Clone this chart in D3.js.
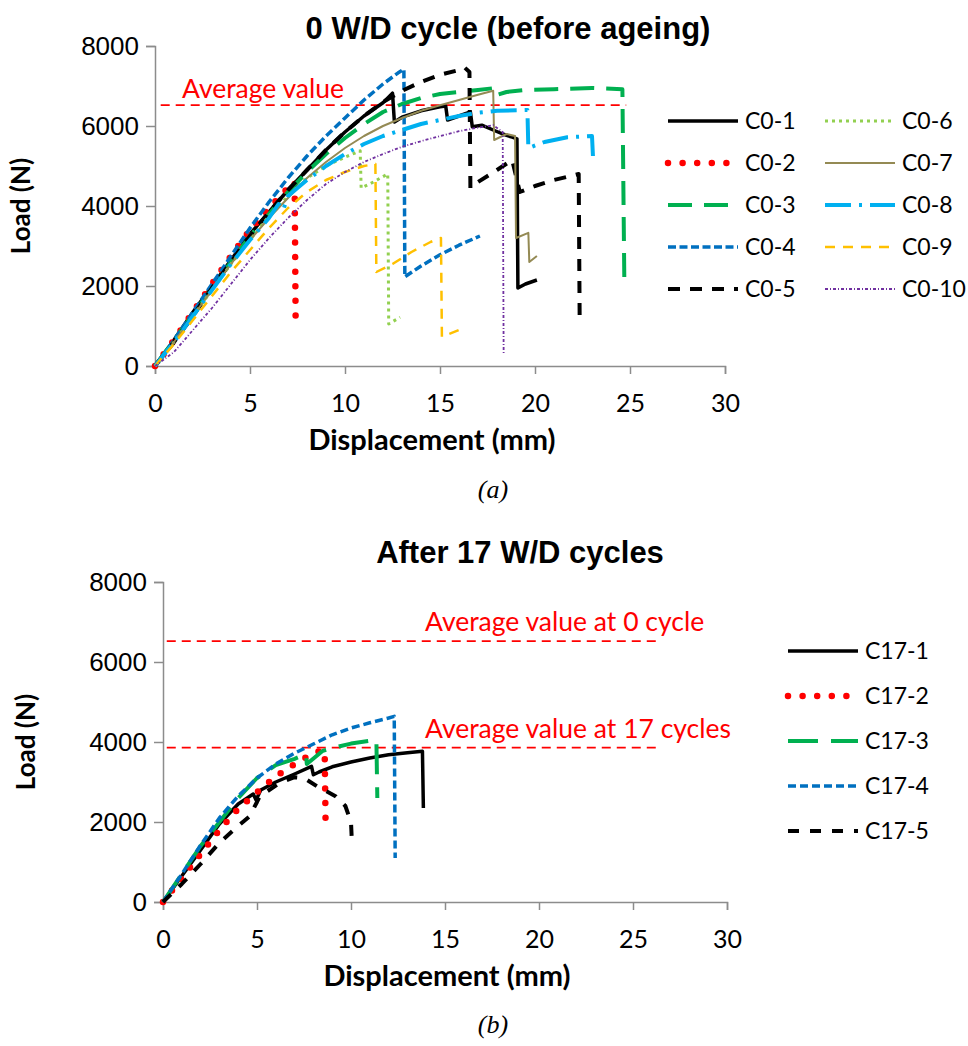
<!DOCTYPE html>
<html><head><meta charset="utf-8">
<script src="https://cdn.jsdelivr.net/npm/d3@7"></script>
<style>body{margin:0;background:#fff}</style>
</head><body><svg id="c" width="968" height="1046"></svg>
<script>
// ---------- DATA ----------
const xTickValues = [0, 5, 10, 15, 20, 25, 30];
const yTickValues = [0, 2000, 4000, 6000, 8000];

const namesA = ["C0-1","C0-2","C0-3","C0-4","C0-5","C0-6","C0-7","C0-8","C0-9","C0-10"];
const namesB = ["C17-1","C17-2","C17-3","C17-4","C17-5"];

const titleA = "0 W/D cycle (before ageing)";
const titleB = "After 17 W/D cycles";

const avgA = 6520;          // average value, 0 cycle
const avgB17 = 3860;        // average value, 17 cycles

const C0_1 = [[0,0],[1,650],[2,1350],[3,2000],[4,2650],[5,3300],[6,3850],[7,4400],[8,4900],[9,5400],[10,5850],[11,6250],[12,6580],[12.5,6820],[12.6,6100],[13,6220],[14,6380],[15,6480],[15.3,6500],[15.4,6150],[16,6250],[16.6,6350],[16.7,5980],[17.2,6020],[17.8,5900],[18.3,5800],[18.8,5720],[19.05,5680],[19.1,1950],[19.5,2050],[20.1,2150]];
const C0_2 = [[0,0],[1,650],[2,1350],[3,2050],[4,2750],[5,3400],[6,3950],[7,4450],[7.35,4600],[7.4,1250]];
const C0_3 = [[0,0],[1,650],[2,1300],[3,1950],[4,2600],[5,3250],[6,3800],[7,4350],[8,4850],[9,5300],[10,5700],[11,6050],[12,6350],[13,6550],[14,6700],[15,6800],[16,6850],[17,6900],[17.9,6950],[18,6780],[18.5,6850],[19.5,6900],[21,6920],[23,6950],[24.6,6920],[24.7,2200]];
const C0_4 = [[0,0],[1,650],[2,1350],[3,2050],[4,2750],[5,3450],[6,4100],[7,4700],[8,5250],[9,5750],[10,6200],[11,6650],[12,7050],[12.8,7330],[13.1,7420],[13.15,2230],[14,2500],[15,2780],[16,3020],[17.1,3250]];
const C0_5 = [[0,0],[1,600],[2,1250],[3,1950],[4,2600],[5,3250],[6,3850],[7,4400],[8,4900],[9,5400],[10,5850],[11,6250],[12,6600],[13,6880],[14,7100],[15,7280],[16,7400],[16.3,7460],[16.55,7350],[16.6,4450],[17,4600],[18,4900],[18.8,5150],[19.2,4350],[20,4500],[21,4650],[22.3,4800],[22.35,1200]];
const C0_6 = [[0,0],[1,600],[2,1250],[3,1900],[4,2550],[5,3150],[6,3750],[7,4250],[8,4700],[9,5000],[10,5220],[10.8,5380],[10.85,4450],[11.3,4550],[12.25,4800],[12.3,1050],[12.9,1220]];
const C0_7 = [[0,0],[1,600],[2,1250],[3,1900],[4,2550],[5,3150],[6,3700],[7,4200],[8,4700],[9,5100],[10,5450],[11,5750],[12,6000],[13,6200],[14,6380],[15,6520],[16,6650],[17,6780],[17.8,6880],[17.85,5650],[18.5,5800],[18.95,5750],[19.0,3200],[19.65,3330],[19.7,2600],[20.1,2750]];
const C0_8 = [[0,0],[1,600],[2,1250],[3,1900],[4,2550],[5,3150],[6,3700],[6.5,4050],[6.75,3900],[7,4250],[8,4650],[9,5000],[10,5300],[11,5550],[12,5750],[13,5900],[14,6050],[15,6150],[16,6250],[17,6330],[18,6380],[19.6,6400],[19.65,5450],[20.5,5600],[21.7,5720],[23,5750],[23.05,5250]];
const C0_9 = [[0,0],[1,550],[2,1150],[3,1750],[4,2350],[5,2900],[6,3450],[7,3950],[8,4350],[9,4650],[10,4850],[11,5000],[11.6,5050],[11.65,2350],[12.5,2550],[13.5,2850],[14.5,3100],[15.05,3200],[15.1,730],[16,900]];
const C0_10 = [[0,0],[1,350],[2,900],[3,1450],[4,2050],[5,2650],[6,3200],[7,3700],[8,4150],[9,4550],[10,4850],[11,5100],[12,5300],[13,5480],[14,5620],[15,5750],[16,5870],[17,5960],[17.8,6020],[18.3,5850],[18.35,280]];

const C17_1 = [[0,0],[1,650],[2,1300],[3,1950],[4,2450],[4.8,2700],[4.95,2550],[5.2,2800],[6,3000],[7,3200],[7.9,3390],[8.0,3180],[8.3,3250],[9,3380],[10,3500],[11,3600],[12,3680],[13,3730],[13.8,3770],[13.85,2350]];
const C17_2 = [[0,0],[1,600],[2,1200],[3,1800],[4,2330],[5,2740],[6,3140],[7,3450],[8,3720],[8.5,3800],[8.6,3750],[8.65,1890]];
const C17_3 = [[0,0],[1,700],[2,1400],[3,2000],[4,2600],[5,3100],[6,3420],[7,3580],[7.6,3700],[7.65,3450],[8.5,3780],[9,3850],[10,3960],[11,4030],[11.35,4060],[11.4,2600]];
const C17_4 = [[0,0],[1,700],[2,1420],[3,2100],[4,2650],[5,3100],[6,3450],[7,3720],[8,3950],[9,4180],[10,4350],[11,4480],[12,4600],[12.3,4640],[12.35,1100]];
const C17_5 = [[0,0],[1,450],[2,950],[3,1480],[4,1900],[4.6,2140],[5.0,2500],[5.14,2640],[6.2,2975],[7.0,3120],[7.5,3100],[8.2,2890],[9.2,2640],[9.7,2400],[10.0,2000],[10.05,1475]];

const seriesA = [C0_1,C0_2,C0_3,C0_4,C0_5,C0_6,C0_7,C0_8,C0_9,C0_10];
const seriesB = [C17_1,C17_2,C17_3,C17_4,C17_5];

// ---------- STYLES ----------
const stA = [
  {c:"#000000", w:3.5, d:null},
  {c:"#FF0000", w:6.5, d:"0 14.6", cap:"round"},
  {c:"#00B050", w:4, d:"24 12"},
  {c:"#0070C0", w:3.5, d:"8 3.5"},
  {c:"#000000", w:4, d:"12 10"},
  {c:"#92D050", w:3, d:"3 4"},
  {c:"#948A54", w:2, d:null},
  {c:"#00B0F0", w:4, d:"26 8 3 8"},
  {c:"#FFC000", w:2.5, d:"10 8"},
  {c:"#7030A0", w:1.8, d:"3 2 1 2"}
];
const stB = [stA[0], stA[1], {c:"#00B050", w:4, d:"30 13"}, {c:"#0070C0", w:3.5, d:"8 4"}, {c:"#000000", w:4, d:"11 11"}];

const svg = d3.select("#c");
const axisColor = "#8c8c8c";
const tickFontY = "'Liberation Sans',Arial,sans-serif";
const bodyFont = "Lato,'Open Sans',sans-serif";

function panel(cfg) {
  const x = d3.scaleLinear().domain([0,30]).range([cfg.left, cfg.left+cfg.w]);
  const y = d3.scaleLinear().domain([0,8000]).range([cfg.top+cfg.h, cfg.top]);
  const g = svg.append("g");

  // axes
  const ax = g.append("g").attr("transform",`translate(0,${cfg.top+cfg.h})`)
    .call(d3.axisBottom(x).tickValues(xTickValues).tickSize(8).tickPadding(20).tickFormat(d3.format("d")));
  ax.select(".domain").attr("stroke",axisColor).attr("stroke-width",1.5);
  ax.selectAll(".tick line").attr("stroke",axisColor).attr("stroke-width",1.5);
  ax.selectAll("text").attr("font-family",bodyFont).attr("font-size",25).attr("fill","#000");

  const ay = g.append("g").attr("transform",`translate(${cfg.left},0)`)
    .call(d3.axisLeft(y).tickValues(yTickValues).tickSize(9).tickPadding(7).tickFormat(d3.format("d")));
  ay.select(".domain").attr("stroke",axisColor).attr("stroke-width",1.5);
  ay.selectAll(".tick line").attr("stroke",axisColor).attr("stroke-width",1.5);
  ay.selectAll("text").attr("font-family",tickFontY).attr("font-size",26).attr("fill","#000");

  // titles
  g.append("text").attr("x",cfg.titleX).attr("y",cfg.titleY).attr("text-anchor","middle")
    .attr("font-family","'Liberation Sans',Arial,sans-serif").attr("font-weight","bold")
    .attr("font-size",cfg.titleSize).text(cfg.title);
  g.append("text").attr("x",(x(0)+x(30))/2 + cfg.xlabDx).attr("y",cfg.top+cfg.h+84).attr("text-anchor","middle")
    .attr("font-family",bodyFont).attr("font-weight","bold").attr("font-size",29).text("Displacement (mm)");
  g.append("text").attr("transform",`translate(${cfg.ylabX},${cfg.top+cfg.h/2}) rotate(-90)`)
    .attr("text-anchor","middle").attr("font-family",bodyFont).attr("font-weight","bold")
    .attr("font-size",26).text("Load (N)");
  g.append("text").attr("x",493).attr("y",cfg.capY).attr("text-anchor","middle")
    .attr("font-family","'Liberation Serif','Times New Roman',serif").attr("font-style","italic")
    .attr("font-size",26).text(cfg.caption);

  // average lines
  cfg.avgs.forEach(a => {
    g.append("line").attr("x1",x(a.x0)).attr("x2",x(a.x1)).attr("y1",y(a.v)).attr("y2",y(a.v))
      .attr("stroke","#FF0000").attr("stroke-width",1.8).attr("stroke-dasharray","9 6");
    g.append("text").attr("x",a.tx).attr("y",y(a.v)+a.dy).attr("fill","#FF0000")
      .attr("font-family",bodyFont).attr("font-size",26.5).text(a.label);
  });

  // curves
  const line = d3.line().x(d=>x(d[0])).y(d=>y(d[1]));
  cfg.series.forEach((s,i) => {
    const st = cfg.styles[i];
    g.append("path").datum(s).attr("d",line).attr("fill","none")
      .attr("stroke",st.c).attr("stroke-width",st.w)
      .attr("stroke-dasharray",st.d).attr("stroke-linecap",st.cap||"butt")
      .attr("stroke-linejoin","round");
  });

  // legend
  cfg.names.forEach((n,i) => {
    const st = cfg.styles[i];
    const col = Math.floor(i/cfg.rows), row = i%cfg.rows;
    const lx = cfg.legX[col], ly = cfg.legY + row*cfg.legDy;
    g.append("line").attr("x1",lx).attr("x2",lx+cfg.legLen).attr("y1",ly).attr("y2",ly)
      .attr("stroke",st.c).attr("stroke-width",st.w).attr("stroke-dasharray",st.d)
      .attr("stroke-linecap",st.cap||"butt");
    g.append("text").attr("x",lx+cfg.legLen+7).attr("y",ly).attr("dy","0.35em")
      .attr("font-family",bodyFont).attr("font-size",23).text(n);
  });
}

panel({left:155, top:46, w:570, h:320, title:titleA, titleX:508, titleY:39, titleSize:31,
  ylabX:30, capY:498, caption:"(a)", xlabDx:-8,
  avgs:[{v:avgA, x0:0.3, x1:24.8, tx:182, dy:-7, label:"Average value"}],
  series:seriesA, styles:stA, names:namesA, rows:5, legX:[668,825], legY:121, legDy:42, legLen:70});

panel({left:163, top:582, w:564, h:320, title:titleB, titleX:520, titleY:563, titleSize:31,
  ylabX:35, capY:1033, caption:"(b)", xlabDx:2,
  avgs:[{v:avgA, x0:0.2, x1:26.4, tx:425, dy:-10, label:"Average value at 0 cycle"},
        {v:avgB17, x0:0.2, x1:26.4, tx:425, dy:-10, label:"Average value at 17 cycles"}],
  series:seriesB, styles:stB, names:namesB, rows:5, legX:[788], legY:651, legDy:45, legLen:70});
</script></body></html>
